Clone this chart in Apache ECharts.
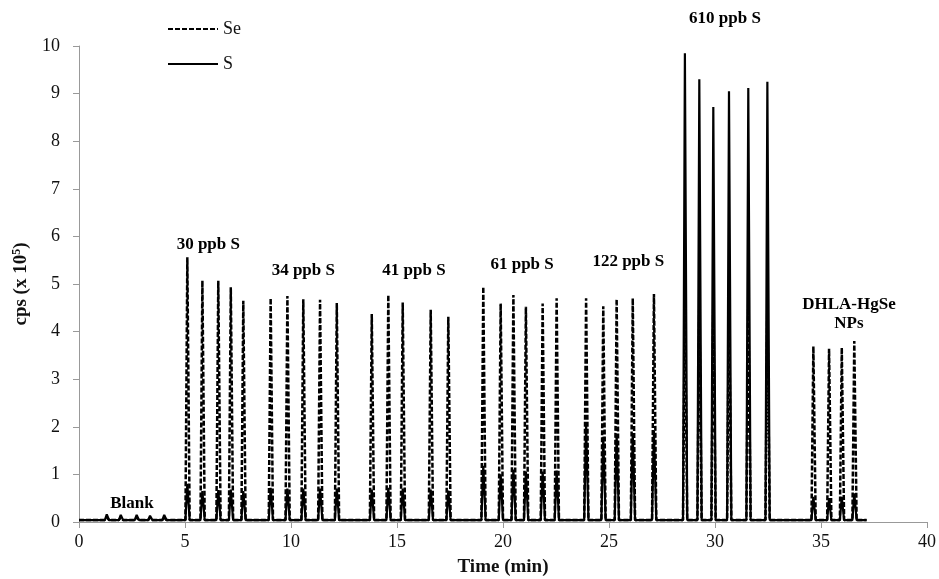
<!DOCTYPE html>
<html>
<head>
<meta charset="utf-8">
<script src="https://cdn.jsdelivr.net/npm/echarts@6/dist/echarts.min.js"></script>
<style>html,body{margin:0;padding:0;background:#fff}#c{width:939px;height:579px}</style>
</head>
<body>
<div id="c"></div>
<script>
// Peak retention times (min)
const peakTimes = [
  1.31, 1.97, 2.72, 3.35, 4.02,            // Blank
  5.11, 5.82, 6.57, 7.16, 7.75,            // 30 ppb S
  9.04, 9.83, 10.58, 11.37, 12.16,         // 34 ppb S
  13.81, 14.59, 15.27, 16.59, 17.42,       // 41 ppb S
  19.07, 19.89, 20.49, 21.08, 21.87, 22.53,// 61 ppb S
  23.92, 24.73, 25.36, 26.12, 27.12,       // 122 ppb S
  28.58, 29.26, 29.92, 30.66, 31.57, 32.47,// 610 ppb S
  34.64, 35.38, 35.98, 36.57               // DHLA-HgSe NPs
];
// Se peak heights (cps x 10^5)
const seHeights = [
  0.10, 0.10, 0.10, 0.09, 0.10,
  5.56, 5.07, 5.07, 4.93, 4.65,
  4.70, 4.75, 4.68, 4.67, 4.60,
  4.37, 4.77, 4.61, 4.46, 4.31,
  4.94, 4.59, 4.77, 4.52, 4.59, 4.70,
  4.70, 4.53, 4.68, 4.70, 4.79,
  4.72, 4.72, 4.72, 4.72, 4.72, 4.72,
  3.69, 3.64, 3.66, 3.80
];
// S peak heights (cps x 10^5)
const sHeights = [
  0.16, 0.15, 0.15, 0.13, 0.15,
  0.80, 0.65, 0.67, 0.68, 0.65,
  0.72, 0.70, 0.70, 0.70, 0.70,
  0.68, 0.72, 0.70, 0.68, 0.66,
  1.18, 1.00, 1.10, 1.06, 1.06, 1.08,
  2.05, 1.79, 1.85, 1.87, 1.91,
  9.85, 9.30, 8.72, 9.05, 9.12, 9.25,
  0.53, 0.50, 0.53, 0.60
];
const traceStart = 0, traceEnd = 37.15, baseline = 0.04;
const xTicks = [0, 40, 5];   // min, max, interval
const yTicks = [0, 10, 1];
// Annotation texts and their anchor (data units)
const noteTexts = ['Blank', '30 ppb S', '34 ppb S', '41 ppb S', '61 ppb S', '122 ppb S', '610 ppb S', 'DHLA-HgSe\nNPs'];
const noteX =     [2.5, 6.1, 10.58, 15.8, 20.9, 25.91, 30.47, 36.32];
const noteY =     [0.38, 5.83, 5.29, 5.29, 5.41, 5.46, 10.57, 4.36];

function trace(heights) {
  const pts = [[traceStart, baseline]];
  peakTimes.forEach((t, i) => {
    pts.push([t - 0.09, baseline]);
    pts.push([t, heights[i]]);
    pts.push([t + 0.11, baseline]);
  });
  pts.push([traceEnd, baseline]);
  return pts;
}

const font = 'Liberation Serif';
const chart = echarts.init(document.getElementById('c'), null, {renderer: 'canvas'});
chart.setOption({
  animation: false,
  backgroundColor: '#fff',
  grid: {left: 79, right: 12, top: 46, bottom: 57, containLabel: false, outerBoundsMode: 'none'},
  legend: {
    data: ['Se', 'S'], orient: 'vertical', left: 162, top: 15,
    itemWidth: 50, itemHeight: 14, itemGap: 17,
    itemStyle: {color: 'rgba(0,0,0,0)', borderWidth: 0},
    lineStyle: {width: 2},
    textStyle: {fontFamily: font, fontSize: 18, color: '#111'}
  },
  xAxis: {
    type: 'value', min: xTicks[0], max: xTicks[1], interval: xTicks[2],
    name: 'Time (min)', nameLocation: 'middle', nameGap: 36,
    nameTextStyle: {fontFamily: font, fontSize: 19, fontWeight: 'bold', color: '#111'},
    axisLine: {lineStyle: {color: '#999', width: 1}},
    axisTick: {show: true, inside: false, length: 6, lineStyle: {color: '#999'}},
    axisLabel: {fontFamily: font, fontSize: 18, color: '#111', margin: 11},
    splitLine: {show: false}
  },
  yAxis: {
    type: 'value', min: yTicks[0], max: yTicks[1], interval: yTicks[2],
    name: 'cps (x 10{sup|5})', nameLocation: 'middle', nameGap: 48, nameRotate: 90,
    nameTextStyle: {fontFamily: font, fontSize: 19, fontWeight: 'bold', color: '#111',
      rich: {sup: {fontFamily: font, fontSize: 12, fontWeight: 'bold', verticalAlign: 'top', padding: [0,0,8,0]}}},
    axisLine: {show: true, lineStyle: {color: '#999', width: 1}},
    axisTick: {show: true, inside: false, length: 6, lineStyle: {color: '#999'}},
    axisLabel: {fontFamily: font, fontSize: 18, color: '#111', margin: 19},
    splitLine: {show: false}
  },
  series: [
    {
      name: 'Se', type: 'line', data: trace(seHeights), showSymbol: false, symbol: 'none',
      lineStyle: {color: '#000', width: 2.5, type: [5, 2]}, itemStyle: {color: '#000'}, z: 2
    },
    {
      name: 'S', type: 'line', data: trace(sHeights), showSymbol: false, symbol: 'none',
      lineStyle: {color: '#000', width: 2.2}, itemStyle: {color: '#000'}, z: 3
    }
  ]
});
// Annotations: placed through the chart's own coordinate conversion
chart.setOption({
  graphic: noteTexts.map((s, i) => {
    const p = chart.convertToPixel({gridIndex: 0}, [noteX[i], noteY[i]]);
    return {
      type: 'text', x: p[0], y: p[1], z: 10, silent: true,
      style: {text: s, fill: '#000', font: 'bold 17px "Liberation Serif"',
        align: 'center', verticalAlign: 'middle', lineHeight: 19}
    };
  })
});
</script>
</body>
</html>
